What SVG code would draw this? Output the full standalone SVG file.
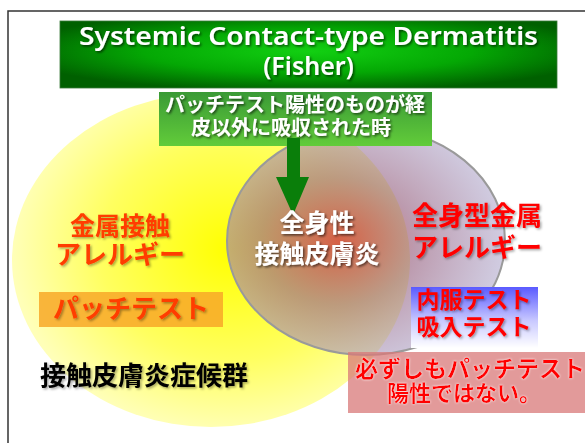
<svg xmlns="http://www.w3.org/2000/svg" width="585" height="443" viewBox="0 0 585 443">
<defs>
  <radialGradient id="gTitle" cx="0.5" cy="0.45" r="0.6" fx="0.5" fy="0.45">
    <stop offset="0" stop-color="#12d012"/>
    <stop offset="0.55" stop-color="#04a804"/>
    <stop offset="1" stop-color="#006000"/>
  </radialGradient>
  <linearGradient id="gSub" x1="0" y1="0" x2="0" y2="1">
    <stop offset="0" stop-color="#3a9a36"/>
    <stop offset="1" stop-color="#62cc3a"/>
  </linearGradient>
  <radialGradient id="gYellow" cx="0.55" cy="0.47" r="0.55">
    <stop offset="0" stop-color="#ffff00"/>
    <stop offset="0.6" stop-color="#ffff60"/>
    <stop offset="1" stop-color="#ffffb8"/>
  </radialGradient>
  <radialGradient id="gGrey" cx="0.4" cy="0.5" r="0.62">
    <stop offset="0" stop-color="#d04444" stop-opacity="0.85"/>
    <stop offset="0.45" stop-color="#a0708c" stop-opacity="0.7"/>
    <stop offset="1" stop-color="#b6b2d4" stop-opacity="0.62"/>
  </radialGradient>
  <linearGradient id="gBlue" x1="0" y1="0" x2="0" y2="1">
    <stop offset="0" stop-color="#5a5aff"/>
    <stop offset="0.55" stop-color="#c8c8ff"/>
    <stop offset="1" stop-color="#ffffff"/>
  </linearGradient>
  <filter id="sh" x="-10%" y="-20%" width="120%" height="150%">
    <feDropShadow dx="1.5" dy="1.5" stdDeviation="1" flood-color="#000" flood-opacity="0.6"/>
  </filter>
  <filter id="shSoft" x="-10%" y="-20%" width="120%" height="150%">
    <feDropShadow dx="1.5" dy="1.5" stdDeviation="1.2" flood-color="#000" flood-opacity="0.35"/>
  </filter>
  <filter id="glow" x="-10%" y="-30%" width="120%" height="160%">
    <feDropShadow dx="0" dy="0" stdDeviation="1.2" flood-color="#fff" flood-opacity="0.9"/>
  </filter>
</defs>
<style>
  .jp { font-family: "Noto Sans CJK JP", "Noto Sans", sans-serif; font-weight: bold; text-anchor: middle; }
  .en { font-family: "Noto Sans", "DejaVu Sans", sans-serif; font-weight: 600; text-anchor: middle; fill: #fff; }
  .white { fill: #ffffff; }
  .orange { fill: #ff3c00; }
  .red { fill: #ff0000; }
  .black { fill: #000000; }
</style>
<rect x="8" y="11" width="600" height="450" fill="#ffffff" stroke="#333333" stroke-width="1.5"/>

<g id="yellow-circle">
  <ellipse cx="211" cy="260" rx="199" ry="167" fill="url(#gYellow)"/>
</g>
<g id="grey-circle">
  <ellipse cx="366" cy="241" rx="139" ry="114" fill="url(#gGrey)" stroke="#9a9a9a" stroke-width="2"/>
</g>

<g id="title">
  <rect x="60" y="21" width="497" height="67" fill="url(#gTitle)" stroke="#3a7a3a" stroke-width="0.8"/>
  <text class="en" x="308.5" y="45" font-size="25" textLength="459" lengthAdjust="spacingAndGlyphs" filter="url(#sh)">Systemic Contact-type Dermatitis</text>
  <text class="en" x="308.5" y="75" font-size="25" filter="url(#sh)">(Fisher)</text>
</g>

<g id="subtitle">
  <rect x="159" y="92" width="273" height="54" fill="url(#gSub)"/>
  <text class="jp white" x="295" y="112" font-size="20" filter="url(#sh)">パッチテスト陽性のものが経</text>
  <text class="jp white" x="291" y="135" font-size="20" filter="url(#sh)">皮以外に吸収された時</text>
</g>

<g id="connectors">
  <polygon points="287,138 300,138 300,177 309,177 293,215 276,177 287,177" fill="#0a7e0a"/>
</g>

<g id="metal-contact-allergy">
  <text class="jp orange" x="120" y="235" font-size="25" filter="url(#shSoft)">金属接触</text>
  <text class="jp orange" x="120" y="264" font-size="26" filter="url(#shSoft)">アレルギー</text>
</g>

<g id="patch-test">
  <rect x="39" y="292" width="184" height="35" fill="#f8a828" fill-opacity="0.85"/>
  <text class="jp orange" x="131" y="318" font-size="26" filter="url(#shSoft)">パッチテスト</text>
</g>

<g id="contact-dermatitis-syndrome">
  <text class="jp black" x="144" y="385" font-size="26" filter="url(#shSoft)">接触皮膚炎症候群</text>
</g>

<g id="systemic-contact-dermatitis">
  <text class="jp white" x="317" y="232" font-size="25" filter="url(#sh)">全身性</text>
  <text class="jp white" x="317" y="263" font-size="25" filter="url(#sh)">接触皮膚炎</text>
</g>

<g id="systemic-metal-allergy">
  <text class="jp red" x="477" y="225" font-size="26" filter="url(#shSoft)">全身型金属</text>
  <text class="jp red" x="477" y="257" font-size="26" filter="url(#shSoft)">アレルギー</text>
</g>

<g id="oral-inhalation-test">
  <rect x="411" y="287" width="127" height="61" fill="url(#gBlue)"/>
  <text class="jp red" x="474" y="308" font-size="23" filter="url(#shSoft)">内服テスト</text>
  <text class="jp red" x="474" y="335" font-size="23" filter="url(#shSoft)">吸入テスト</text>
</g>

<g id="not-necessarily-positive">
  <rect x="348" y="352" width="240" height="61" fill="#d87878" fill-opacity="0.75"/>
  <text class="jp red" x="470" y="377" font-size="23" filter="url(#glow)">必ずしもパッチテスト</text>
  <text class="jp red" x="464" y="401" font-size="22" filter="url(#glow)">陽性ではない。</text>
</g>
</svg>
